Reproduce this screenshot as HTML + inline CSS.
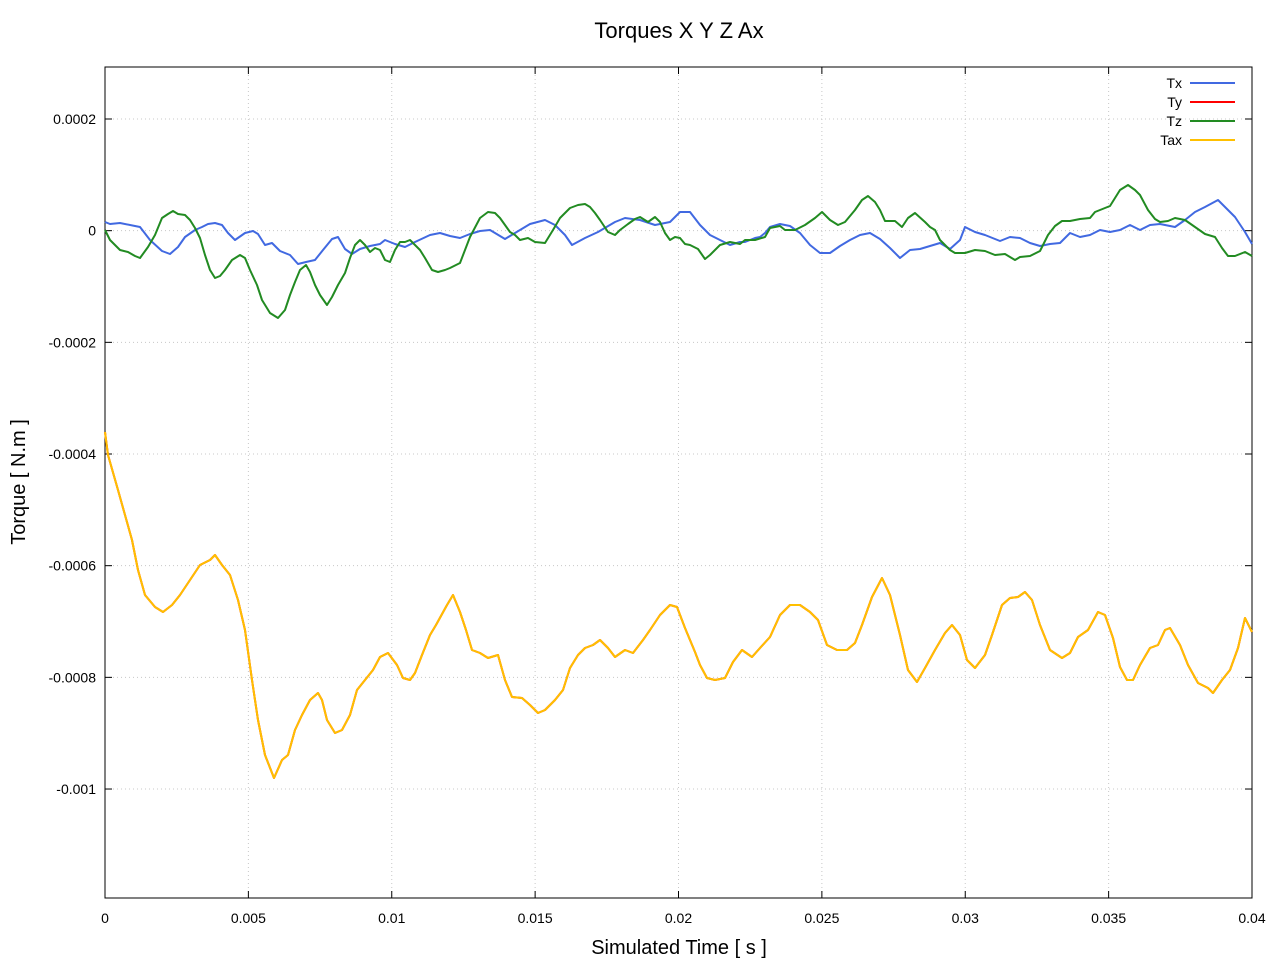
<!DOCTYPE html><html><head><style>body{margin:0;background:#fff}svg{display:block;font-family:"Liberation Sans",sans-serif}</style></head><body>
<svg id="s" width="1280" height="960" xmlns="http://www.w3.org/2000/svg">
<rect width="1280" height="960" fill="#fff"/>
<g id="grid" stroke="#c8c8c8" stroke-dasharray="1,3" stroke-width="1"></g>
<g id="ticks" stroke="#000" stroke-width="1"></g>
<g id="labels" font-size="14" fill="#000"></g>
<rect x="105" y="67" width="1147" height="831" fill="none" stroke="#000" stroke-width="1"/>
<text x="679" y="38" font-size="22" text-anchor="middle">Torques X Y Z Ax</text>
<text x="679" y="954" font-size="20" text-anchor="middle">Simulated Time [ s ]</text>
<text transform="translate(25,482) rotate(-90)" font-size="20" text-anchor="middle">Torque [ N.m ]</text>
<g font-size="14" text-anchor="end">
<text x="1182" y="88">Tx</text><text x="1182" y="107">Ty</text><text x="1182" y="126">Tz</text><text x="1182" y="145">Tax</text>
</g>
<line x1="1190" y1="83" x2="1235" y2="83" stroke="#4169e1" stroke-width="2"/>
<line x1="1190" y1="102" x2="1235" y2="102" stroke="#ff0000" stroke-width="2"/>
<line x1="1190" y1="121" x2="1235" y2="121" stroke="#228b22" stroke-width="2"/>
<line x1="1190" y1="140" x2="1235" y2="140" stroke="#ffc000" stroke-width="2"/>
<polyline id="pb" fill="none" stroke="#4169e1" stroke-width="2" stroke-linejoin="round"/>
<polyline id="pg" fill="none" stroke="#228b22" stroke-width="2" stroke-linejoin="round"/>
<polyline id="pr" fill="none" stroke="#ff0000" stroke-width="2" stroke-linejoin="round"/>
<polyline id="py" fill="none" stroke="#ffc000" stroke-width="2" stroke-linejoin="round"/>
</svg>
<script>
var NS="http://www.w3.org/2000/svg";
function el(p,t,a,txt){var e=document.createElementNS(NS,t);for(var k in a)e.setAttribute(k,a[k]);if(txt!==undefined)e.textContent=txt;document.getElementById(p).appendChild(e);}
var xl=["0","0.005","0.01","0.015","0.02","0.025","0.03","0.035","0.04"];
for(var i=0;i<9;i++){var x=105+i*143.375;
 if(i>0&&i<8)el("grid","line",{x1:x,y1:67,x2:x,y2:898});
 el("ticks","line",{x1:x,y1:898,x2:x,y2:891});el("ticks","line",{x1:x,y1:67,x2:x,y2:74});
 el("labels","text",{x:x,y:923,"text-anchor":"middle"},xl[i]);}
var yl=["0.0002","0","-0.0002","-0.0004","-0.0006","-0.0008","-0.001"];
for(var j=0;j<7;j++){var y=119+j*111.67;
 el("grid","line",{x1:105,y1:y,x2:1252,y2:y});
 el("ticks","line",{x1:105,y1:y,x2:112,y2:y});el("ticks","line",{x1:1252,y1:y,x2:1245,y2:y});
 el("labels","text",{x:96,y:y+5,"text-anchor":"end"},yl[j]);}
var b=[[105,222],[110,224],[120,223],[135,226],[140,227],[150,240],[162,251],[170,254],[178,247],[185,237],[195,230],[202,227],[208,224],[215,223],[222,225],[228,233],[235,240],[245,233],[253,231],[258,234],[265,245],[272,243],[280,251],[290,255],[298,264],[306,262],[315,260],[323,250],[332,239],[338,237],[345,249],[352,254],[360,249],[370,246],[380,244],[385,240],[395,244],[405,247],[415,242],[430,235],[440,233],[450,236],[460,238],[470,234],[480,231],[490,230],[505,239],[515,233],[530,224],[545,220],[555,225],[565,235],[572,245],[585,238],[598,232],[615,222],[625,218],[640,220],[655,225],[670,222],[680,212],[690,212],[700,225],[710,235],[720,240],[730,245],[740,242],[745,242],[755,238],[760,237],[765,233],[770,227],[780,224],[790,226],[800,233],[810,245],[820,253],[830,253],[840,246],[850,240],[860,235],[870,233],[880,239],[890,248],[900,258],[910,250],[920,249],[930,246],[940,243],[950,249],[960,240],[965,227],[975,232],[985,235],[1000,241],[1010,237],[1020,238],[1030,243],[1040,246],[1050,244],[1060,243],[1070,233],[1080,237],[1090,235],[1100,230],[1110,232],[1120,230],[1130,225],[1140,230],[1150,225],[1160,224],[1175,227],[1185,220],[1195,212],[1205,207],[1218,200],[1225,207],[1235,217],[1245,232],[1252,244]];
var g=[[105,230],[110,240],[120,250],[128,252],[135,256],[140,258],[148,247],[155,235],[162,218],[168,214],[173,211],[178,214],[185,215],[190,220],[195,228],[200,238],[205,255],[210,270],[215,278],[220,276],[225,270],[232,260],[240,255],[245,258],[250,270],[257,285],[262,300],[270,313],[278,318],[285,310],[290,295],[295,282],[300,270],[306,265],[310,272],[315,285],[320,295],[327,305],[332,297],[338,285],[345,273],[350,258],[355,245],[360,240],[365,245],[370,252],[375,248],[380,250],[385,260],[390,262],[395,250],[400,242],[405,242],[410,240],[415,245],[420,250],[425,258],[432,270],[438,272],[445,270],[450,268],[460,263],[465,250],[470,237],[480,218],[488,212],[495,213],[500,218],[505,225],[510,232],[515,235],[520,240],[528,238],[535,242],[545,243],[553,230],[560,218],[570,208],[578,205],[585,204],[590,207],[595,213],[600,220],[608,232],[615,235],[620,230],[628,224],[635,219],[640,217],[648,222],[655,217],[660,222],[665,233],[670,240],[675,237],[680,238],[685,244],[690,245],[698,249],[705,259],[710,255],[720,245],[730,242],[740,244],[745,240],[755,240],[765,237],[770,228],[780,226],[785,230],[795,230],[805,225],[815,218],[822,212],[830,220],[838,225],[845,222],[855,210],[862,200],[868,196],[875,202],[880,210],[885,221],[895,221],[902,227],[908,218],[915,213],[925,222],[930,227],[935,230],[940,240],[950,250],[955,253],[965,253],[975,250],[985,251],[995,255],[1005,254],[1015,260],[1020,257],[1030,256],[1040,251],[1048,235],[1055,226],[1062,221],[1070,221],[1080,219],[1090,218],[1095,212],[1100,210],[1110,206],[1120,190],[1128,185],[1135,190],[1140,195],[1148,210],[1155,219],[1160,222],[1168,221],[1175,218],[1185,220],[1195,227],[1205,234],[1215,237],[1222,248],[1228,256],[1235,256],[1245,252],[1252,256]];
var gy=[[105,432],[108,455],[118,490],[125,515],[132,540],[138,570],[145,595],[155,607],[163,612],[172,605],[180,595],[190,580],[200,565],[210,560],[215,555],[222,565],[230,575],[238,600],[245,630],[252,680],[258,720],[265,755],[274,778],[282,760],[288,755],[295,730],[302,715],[310,700],[318,693],[322,700],[327,720],[335,733],[342,730],[350,715],[357,690],[365,680],[373,670],[380,657],[388,653],[397,665],[403,678],[410,680],[415,673],[422,655],[430,635],[436,625],[447,605],[453,595],[460,612],[466,630],[472,650],[480,653],[488,658],[498,655],[505,680],[512,697],[522,698],[530,705],[538,713],[545,710],[555,700],[563,690],[570,668],[578,655],[585,648],[593,645],[600,640],[608,648],[615,657],[625,650],[633,653],[643,640],[650,630],[660,615],[670,605],[677,607],[685,628],[695,652],[700,665],[707,678],[715,680],[725,678],[733,662],[742,650],[752,657],[760,648],[770,637],[780,615],[790,605],[800,605],[810,612],[818,620],[827,645],[837,650],[847,650],[855,643],[862,625],[872,597],[882,578],[890,595],[900,635],[908,670],[917,682],[925,668],[935,650],[945,633],[952,625],[960,635],[967,660],[975,668],[985,655],[992,635],[1002,605],[1010,598],[1018,597],[1025,592],[1032,600],[1040,625],[1050,650],[1062,658],[1070,653],[1078,637],[1088,630],[1098,612],[1105,615],[1113,638],[1120,667],[1127,680],[1133,680],[1140,665],[1150,648],[1158,645],[1165,630],[1170,628],[1180,645],[1188,665],[1198,683],[1208,688],[1213,693],[1222,680],[1230,670],[1238,648],[1245,618],[1252,632]];
function pts(a){return a.map(function(p){return p[0]+","+p[1];}).join(" ");}
document.getElementById("pb").setAttribute("points",pts(b));
document.getElementById("pg").setAttribute("points",pts(g));
document.getElementById("pr").setAttribute("points",pts(gy));
document.getElementById("py").setAttribute("points",pts(gy));
</script>
</body></html>
